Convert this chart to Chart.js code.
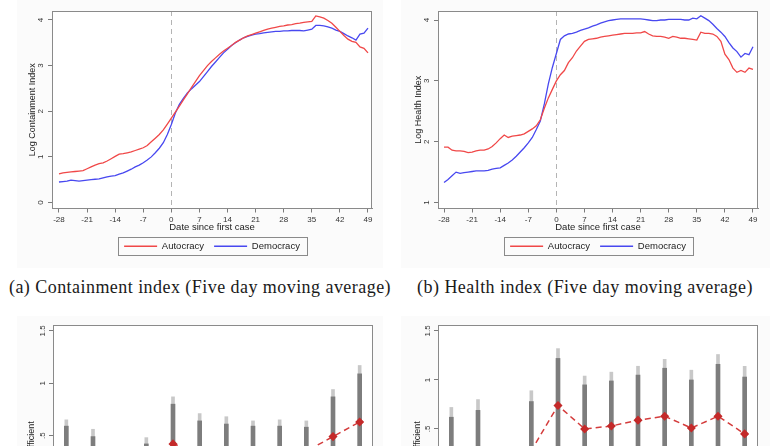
<!DOCTYPE html>
<html><head><meta charset="utf-8">
<script src="https://cdn.jsdelivr.net/npm/chart.js@4/dist/chart.umd.min.js"></script>
<style>
html,body{margin:0;padding:0;background:#fff;width:772px;height:446px;overflow:hidden;position:relative;font-family:"Liberation Sans",Arial,sans-serif;}
.bg{position:absolute;background:#fbfbfb;}
canvas{position:absolute;}
.cap{position:absolute;font-family:"Liberation Serif","DejaVu Serif",serif;font-size:18px;letter-spacing:0.45px;color:#1a1a1a;white-space:nowrap;transform:translate(-50%,-50%);}
</style></head><body>
<div class="bg" style="left:17px;top:0;width:366px;height:268px"></div>
<div class="bg" style="left:401px;top:0;width:369px;height:268px"></div>
<div class="bg" style="left:17px;top:316px;width:366px;height:140px"></div>
<div class="bg" style="left:401px;top:316px;width:369px;height:140px"></div>
<canvas id="c1" width="386" height="262" style="left:0;top:0"></canvas>
<canvas id="c2" width="386" height="262" style="left:386px;top:0"></canvas>
<canvas id="c3" width="386" height="300" style="left:0;top:300px"></canvas>
<canvas id="c4" width="386" height="300" style="left:386px;top:300px"></canvas>
<div class="cap" style="left:200px;top:287px">(a) Containment index (Five day moving average)</div>
<div class="cap" style="left:585px;top:287px">(b) Health index (Five day moving average)</div>
<script>
// ---------- data ----------
const days = [-28,-27,-26,-25,-24,-23,-22,-21,-20,-19,
  -18,-17,-16,-15,-14,-13,-12,-11,-10,-9,
  -8,-7,-6,-5,-4,-3,-2,-1,0,1,
  2,3,4,5,6,7,8,9,10,11,
  12,13,14,15,16,17,18,19,20,21,
  22,23,24,25,26,27,28,29,30,31,
  32,33,34,35,36,37,38,39,40,41,
  42,43,44,45,46,47,48,49];
const xTicks = [-28,-21,-14,-7,0,7,14,21,28,35,42,49];
const containYTicks = [0,1,2,3,4];
const healthYTicks = [1,2,3,4];

const containAutocracy = [0.63,0.65,0.66,0.67,0.68,0.69,0.70,0.74,0.78,0.82,
  0.85,0.87,0.91,0.96,1.01,1.06,1.07,1.09,1.11,1.14,
  1.17,1.20,1.25,1.33,1.41,1.49,1.59,1.72,1.85,1.98,
  2.11,2.25,2.38,2.52,2.65,2.78,2.89,3.00,3.09,3.17,
  3.25,3.32,3.38,3.44,3.51,3.56,3.61,3.65,3.68,3.71,
  3.74,3.77,3.80,3.82,3.84,3.86,3.87,3.89,3.90,3.92,
  3.93,3.95,3.96,3.97,4.09,4.07,4.04,3.99,3.93,3.84,
  3.75,3.66,3.58,3.53,3.51,3.41,3.38,3.28];
const containDemocracy = [0.45,0.46,0.47,0.49,0.48,0.47,0.48,0.49,0.50,0.51,
  0.52,0.54,0.56,0.58,0.59,0.62,0.65,0.69,0.73,0.78,
  0.82,0.87,0.93,1.00,1.09,1.19,1.31,1.49,1.71,1.96,
  2.15,2.28,2.40,2.49,2.57,2.65,2.76,2.87,2.98,3.08,
  3.18,3.28,3.36,3.44,3.50,3.56,3.61,3.64,3.67,3.69,
  3.70,3.72,3.73,3.74,3.75,3.75,3.76,3.76,3.77,3.77,
  3.77,3.76,3.78,3.80,3.88,3.88,3.87,3.85,3.82,3.78,
  3.75,3.70,3.65,3.61,3.56,3.69,3.71,3.82];
const healthAutocracy = [1.91,1.91,1.86,1.85,1.85,1.84,1.82,1.83,1.85,1.86,
  1.86,1.88,1.92,1.98,2.05,2.11,2.07,2.09,2.10,2.11,
  2.13,2.17,2.21,2.26,2.36,2.55,2.72,2.86,3.00,3.10,
  3.17,3.30,3.38,3.49,3.57,3.65,3.68,3.69,3.70,3.72,
  3.73,3.74,3.75,3.76,3.77,3.78,3.78,3.78,3.79,3.79,
  3.81,3.77,3.74,3.73,3.73,3.72,3.70,3.73,3.72,3.70,
  3.70,3.69,3.68,3.67,3.80,3.78,3.78,3.77,3.73,3.65,
  3.44,3.35,3.21,3.14,3.17,3.14,3.21,3.19];
const healthDemocracy = [1.33,1.38,1.44,1.50,1.48,1.49,1.50,1.51,1.52,1.52,
  1.52,1.53,1.55,1.56,1.57,1.61,1.65,1.70,1.76,1.83,
  1.90,1.98,2.07,2.20,2.34,2.62,2.95,3.22,3.45,3.68,
  3.74,3.77,3.78,3.80,3.83,3.85,3.87,3.90,3.92,3.95,
  3.97,3.99,4.00,4.01,4.02,4.02,4.02,4.02,4.02,4.02,
  4.01,4.00,3.99,3.99,4.00,4.00,4.01,4.01,4.01,4.01,
  4.00,4.00,4.03,4.02,4.07,4.03,3.99,3.93,3.86,3.80,
  3.73,3.63,3.54,3.48,3.39,3.45,3.43,3.56];

const periods = ["-3","-2","-1","0","1","2","3","4","5","6","7","8"];
const coefYTicks = [-0.5,0,0.5,1,1.5];
const coefYTickLabels = ["-.5","0",".5","1","1.5"];

const containCoef = [0.20,0.11,null,0.03,0.42,0.33,0.30,0.28,0.29,0.35,0.49,0.63];
const containLo90 = [-0.19,-0.27,null,-0.36,0.04,0.02,-0.01,-0.03,-0.01,0.12,0.11,0.16];
const containHi90 = [0.59,0.49,null,0.42,0.80,0.64,0.61,0.59,0.59,0.58,0.87,1.09];
const containLo95 = [-0.25,-0.34,null,-0.42,-0.03,-0.05,-0.08,-0.08,-0.07,0.06,0.04,0.08];
const containHi95 = [0.65,0.56,null,0.48,0.87,0.71,0.68,0.64,0.65,0.64,0.94,1.17];

const healthCoef = [0.15,0.20,null,0.28,0.74,0.50,0.53,0.59,0.63,0.51,0.63,0.45];
const healthLo90 = [-0.32,-0.29,null,-0.22,0.26,0.05,0.07,0.13,0.14,0.01,0.09,-0.13];
const healthHi90 = [0.62,0.69,null,0.78,1.22,0.95,0.99,1.05,1.12,1.00,1.16,1.03];
const healthLo95 = [-0.42,-0.40,null,-0.33,0.17,-0.05,-0.02,0.04,0.04,-0.08,-0.01,-0.24];
const healthHi95 = [0.72,0.80,null,0.89,1.32,1.04,1.08,1.14,1.21,1.10,1.26,1.14];

// ---------- plugins ----------
const plotBg = { id:'plotBg', beforeDraw(chart){ const a=chart.chartArea, c=chart.ctx; c.save(); c.fillStyle='#ffffff'; c.fillRect(a.left,a.top,a.right-a.left,a.bottom-a.top); c.restore(); } };
const frame = { id:'frame', afterDraw(chart){ const a=chart.chartArea, c=chart.ctx; c.save(); c.strokeStyle='#8a8a8a'; c.lineWidth=1; c.strokeRect(Math.round(a.left)+0.5, Math.round(a.top)+0.5, Math.round(a.right-a.left)-1, Math.round(a.bottom-a.top)-1); c.restore(); } };
const zeroLine = { id:'zeroLine', beforeDatasetsDraw(chart){ const a=chart.chartArea, c=chart.ctx; const x=Math.round(chart.scales.x.getPixelForValue(0))+0.5; c.save(); c.strokeStyle='#b4b4b4'; c.lineWidth=1; c.setLineDash([5,4]); c.beginPath(); c.moveTo(x,a.top); c.lineTo(x,a.bottom); c.stroke(); c.restore(); } };
const legendBox = { id:'legendBox', afterDraw(chart){ const lg=chart.legend; if(!lg||!lg.options.display||!lg.legendHitBoxes.length) return; const hb=lg.legendHitBoxes; const l=Math.min(...hb.map(h=>h.left))-6; const r=Math.max(...hb.map(h=>h.left+h.width))+7; const cy=hb[0].top+hb[0].height/2; const c=chart.ctx; c.save(); c.strokeStyle='#8a8a8a'; c.lineWidth=1; c.strokeRect(Math.round(l)+0.5, Math.round(cy-9)+0.5, Math.round(r-l), 18); c.restore(); } };

const gridOpts = { drawOnChartArea:false, drawTicks:true, tickLength:4, color:'#7a7a7a', tickColor:'#7a7a7a' };
const borderOpts = { display:true, color:'#8a8a8a' };

function lineChart(id, yTitle, auto, demo, xMin, xMax, yMin, yMax, yTicks){
  return new Chart(document.getElementById(id), {
    type:'line',
    data:{ datasets:[
      { label:'Autocracy', data: days.map((d,i)=>({x:d,y:auto[i]})), borderColor:'#f04848', borderWidth:1.3, pointRadius:0, tension:0 },
      { label:'Democracy', data: days.map((d,i)=>({x:d,y:demo[i]})), borderColor:'#4848f0', borderWidth:1.3, pointRadius:0, tension:0 }
    ]},
    options:{
      responsive:false, animation:false, events:[],
      layout:{ padding:{ top:11, right:14, left:0, bottom:1 } },
      plugins:{
        tooltip:{enabled:false},
        legend:{ position:'bottom', fullSize:false,
          labels:{ font:{size:9.5, family:'"Liberation Sans", Arial, sans-serif'}, color:'#222', usePointStyle:true, pointStyle:'line', pointStyleWidth:33, padding:10 } }
      },
      scales:{
        x:{ type:'linear', min:xMin, max:xMax,
          afterBuildTicks: s => { s.ticks = xTicks.map(v=>({value:v})); },
          afterFit: s => { s.height = 23; },
          ticks:{ font:{size:8}, color:'#333', maxRotation:0, autoSkip:false, padding:2 },
          grid: gridOpts, border: borderOpts,
          title:{ display:true, text:'Date since first case', font:{size:9.5}, color:'#222', padding:{top:0,bottom:-1.5} } },
        y:{ type:'linear', min:yMin, max:yMax,
          afterBuildTicks: s => { s.ticks = yTicks.map(v=>({value:v})); },
          afterFit: s => { s.width = 52; },
          ticks:{ font:{size:8}, color:'#333', minRotation:90, maxRotation:90, crossAlign:'center', padding:5, autoSkip:false },
          grid: gridOpts, border: borderOpts,
          title:{ display:true, text:yTitle, font:{size:9}, color:'#222', padding:{top:27.5,bottom:0} } }
      }
    },
    plugins:[plotBg, zeroLine, frame, legendBox]
  });
}

function coefChart(id, coef, lo90, hi90, lo95, hi95, yMin, yMax, yWidth, padRight){
  return new Chart(document.getElementById(id), {
    type:'bar',
    data:{ labels: periods, datasets:[
      { type:'line', label:'Coefficient', data: coef, borderColor:'#d43c3c', borderWidth:1.5, borderDash:[6,4], pointStyle:'rectRot', pointRadius:3.5, pointBackgroundColor:'#c42a2a', pointBorderColor:'#c42a2a', spanGaps:true, tension:0, order:1 },
      { label:'90% CI', data: periods.map((p,i)=> lo90[i]==null?null:[lo90[i],hi90[i]]), backgroundColor:'#7d7d7d', barThickness:4, grouped:false, order:2 },
      { label:'95% CI', data: periods.map((p,i)=> lo95[i]==null?null:[lo95[i],hi95[i]]), backgroundColor:'#c8c8c8', barThickness:3, grouped:false, order:3 }
    ]},
    options:{
      responsive:false, animation:false, events:[],
      layout:{ padding:{ top:25, right:padRight, left:0, bottom:0 } },
      plugins:{ tooltip:{enabled:false}, legend:{display:false} },
      scales:{
        x:{ type:'category', offset:true,
          afterFit: s => { s.height = 40; },
          ticks:{ font:{size:8}, color:'#333', maxRotation:0, autoSkip:false },
          grid: gridOpts, border: borderOpts },
        y:{ type:'linear', min:yMin, max:yMax,
          afterBuildTicks: s => { s.ticks = coefYTicks.map(v=>({value:v})); },
          afterFit: s => { s.width = yWidth; },
          ticks:{ font:{size:8}, color:'#333', minRotation:90, maxRotation:90, crossAlign:'center', padding:1, autoSkip:false,
            callback:(v,i)=> coefYTickLabels[i] },
          grid: gridOpts, border: borderOpts,
          title:{ display:true, text:'Coefficient', font:{size:9}, color:'#222', padding:{top:26.5,bottom:0} } }
      }
    },
    plugins:[plotBg, frame]
  });
}

lineChart('c1', 'Log Containment Index', containAutocracy, containDemocracy, -29.74, 50, -0.131, 4.197, containYTicks);
lineChart('c2', 'Log Health Index', healthAutocracy, healthDemocracy, -29.5, 50.25, 0.902, 4.148, healthYTicks);
coefChart('c3', containCoef, containLo90, containHi90, containLo95, containHi95, -0.69, 1.557, 53, 13);
coefChart('c4', healthCoef, healthLo90, healthHi90, healthLo95, healthHi95, -0.837, 1.561, 52, 14);
</script>
</body></html>
